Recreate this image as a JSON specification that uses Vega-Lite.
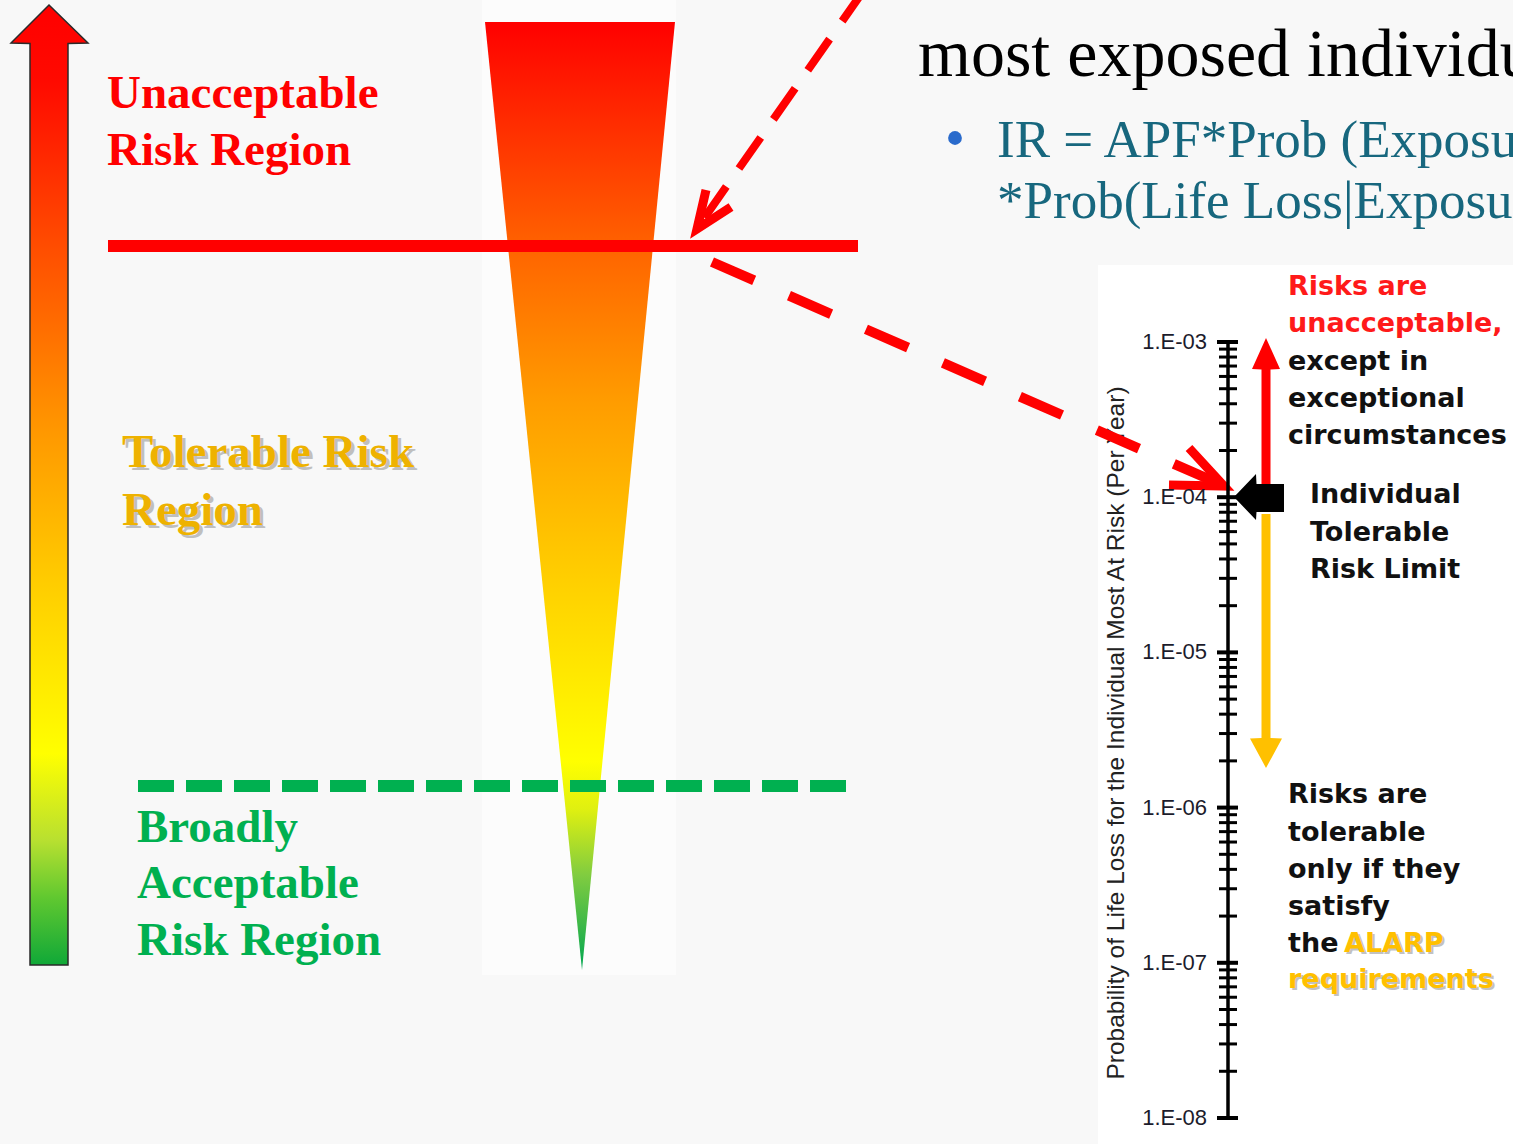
{
  "$schema": "https://vega.github.io/schema/vega-lite/v6.json",
  "width": 1513,
  "height": 1144,
  "padding": 0,
  "autosize": {"type": "none"},
  "background": "#f8f8f8",
  "config": {"view": {"stroke": null}},
  "datasets": {
    "panels": [
      {"x": 482, "x2": 676, "y": 0, "y2": 975, "k": "faint"},
      {"x": 1098, "x2": 1513, "y": 265, "y2": 1144, "k": "white"}
    ],
    "leftArrow": [
      {"y": 5, "xl": 49, "xr": 49},
      {"y": 43, "xl": 11, "xr": 88},
      {"y": 43.5, "xl": 30, "xr": 68},
      {"y": 965, "xl": 30, "xr": 68}
    ],
    "triangle": [
      {"y": 22, "xl": 485, "xr": 675},
      {"y": 970, "xl": 582, "xr": 582}
    ],
    "redUp": [
      {"y": 338, "xl": 1266, "xr": 1266},
      {"y": 369, "xl": 1252, "xr": 1280},
      {"y": 369.5, "xl": 1261.5, "xr": 1270.5},
      {"y": 492, "xl": 1261.5, "xr": 1270.5}
    ],
    "orangeDown": [
      {"y": 514, "xl": 1261.5, "xr": 1270.5},
      {"y": 738, "xl": 1261.5, "xr": 1270.5},
      {"y": 738.5, "xl": 1250, "xr": 1282},
      {"y": 768, "xl": 1266, "xr": 1266}
    ],
    "blackLeft": [
      {"x": 1234, "yt": 497, "yb": 497},
      {"x": 1256, "yt": 474, "yb": 520},
      {"x": 1256.5, "yt": 484, "yb": 512},
      {"x": 1284, "yt": 484, "yb": 512}
    ],
    "dash1": [
      {"i": 0, "x": 864, "y": -10},
      {"i": 1, "x": 698, "y": 227}
    ],
    "dash2": [
      {"i": 0, "x": 712, "y": 262},
      {"i": 1, "x": 1220, "y": 484}
    ],
    "heads": [
      {"id": "a", "i": 0, "x": 706, "y": 190},
      {"id": "a", "i": 1, "x": 697, "y": 229},
      {"id": "a", "i": 2, "x": 731, "y": 207},
      {"id": "b", "i": 0, "x": 1189, "y": 448},
      {"id": "b", "i": 1, "x": 1224, "y": 486},
      {"id": "b", "i": 2, "x": 1169, "y": 485}
    ],
    "majors": [
      {"v": 1e-3, "label": "1.E-03"},
      {"v": 1e-4, "label": "1.E-04"},
      {"v": 1e-5, "label": "1.E-05"},
      {"v": 1e-6, "label": "1.E-06"},
      {"v": 1e-7, "label": "1.E-07"},
      {"v": 1e-8, "label": "1.E-08"}
    ],
    "minors": [
      {"v": 2e-4}, {"v": 3e-4}, {"v": 4e-4}, {"v": 5e-4}, {"v": 6e-4}, {"v": 7e-4}, {"v": 8e-4}, {"v": 9e-4},
      {"v": 2e-5}, {"v": 3e-5}, {"v": 4e-5}, {"v": 5e-5}, {"v": 6e-5}, {"v": 7e-5}, {"v": 8e-5}, {"v": 9e-5},
      {"v": 2e-6}, {"v": 3e-6}, {"v": 4e-6}, {"v": 5e-6}, {"v": 6e-6}, {"v": 7e-6}, {"v": 8e-6}, {"v": 9e-6},
      {"v": 2e-7}, {"v": 3e-7}, {"v": 4e-7}, {"v": 5e-7}, {"v": 6e-7}, {"v": 7e-7}, {"v": 8e-7}, {"v": 9e-7},
      {"v": 2e-8}, {"v": 3e-8}, {"v": 4e-8}, {"v": 5e-8}, {"v": 6e-8}, {"v": 7e-8}, {"v": 8e-8}, {"v": 9e-8}
    ]
  },
  "layer": [
    {
      "layer": [
        {
          "data": {"name": "panels"},
          "mark": {"type": "rect"},
          "encoding": {
            "x": {"field": "x", "type": "quantitative", "scale": {"domain": [0, 1513], "nice": false, "zero": false}, "axis": null},
            "x2": {"field": "x2"},
            "y": {"field": "y", "type": "quantitative", "scale": {"domain": [0, 1144], "reverse": true, "nice": false, "zero": false}, "axis": null},
            "y2": {"field": "y2"},
            "fill": {"field": "k", "type": "nominal", "scale": {"domain": ["faint", "white"], "range": ["#fcfcfc", "#ffffff"]}, "legend": null}
          }
        },
        {
          "data": {"name": "leftArrow"},
          "mark": {
            "type": "area", "orient": "horizontal", "stroke": "#2a2a2a", "strokeWidth": 1.5,
            "fill": {"gradient": "linear", "x1": 0, "y1": 0, "x2": 0, "y2": 1, "stops": [
              {"offset": 0, "color": "#ff0000"},
              {"offset": 0.08, "color": "#ff0a00"},
              {"offset": 0.25, "color": "#ff4c00"},
              {"offset": 0.45, "color": "#ff9a00"},
              {"offset": 0.6, "color": "#ffcc00"},
              {"offset": 0.78, "color": "#ffff00"},
              {"offset": 0.87, "color": "#b8e030"},
              {"offset": 0.93, "color": "#60c830"},
              {"offset": 1, "color": "#10a838"}
            ]}
          },
          "encoding": {
            "y": {"field": "y", "type": "quantitative"},
            "x": {"field": "xl", "type": "quantitative", "stack": null},
            "x2": {"field": "xr"}
          }
        },
        {
          "data": {"name": "triangle"},
          "mark": {
            "type": "area", "orient": "horizontal",
            "fill": {"gradient": "linear", "x1": 0, "y1": 0, "x2": 0, "y2": 1, "stops": [
              {"offset": 0, "color": "#ff0000"},
              {"offset": 0.25, "color": "#ff6800"},
              {"offset": 0.4, "color": "#ff9c00"},
              {"offset": 0.6, "color": "#ffd200"},
              {"offset": 0.78, "color": "#ffff00"},
              {"offset": 0.83, "color": "#e0f010"},
              {"offset": 0.9, "color": "#80cc40"},
              {"offset": 1, "color": "#00a650"}
            ]}
          },
          "encoding": {
            "y": {"field": "y", "type": "quantitative"},
            "x": {"field": "xl", "type": "quantitative", "stack": null},
            "x2": {"field": "xr"}
          }
        },
        {
          "data": {"values": [{"x": 108, "x2": 858, "y": 246}]},
          "mark": {"type": "rule", "color": "#ff0000", "strokeWidth": 12},
          "encoding": {
            "x": {"field": "x", "type": "quantitative"},
            "x2": {"field": "x2"},
            "y": {"field": "y", "type": "quantitative"}
          }
        },
        {
          "data": {"values": [{"x": 138, "x2": 846, "y": 786}]},
          "mark": {"type": "rule", "color": "#00b050", "strokeWidth": 12, "strokeDash": [36, 12]},
          "encoding": {
            "x": {"field": "x", "type": "quantitative"},
            "x2": {"field": "x2"},
            "y": {"field": "y", "type": "quantitative"}
          }
        },
        {
          "data": {"name": "redUp"},
          "mark": {"type": "area", "orient": "horizontal", "fill": "#ff0000"},
          "encoding": {
            "y": {"field": "y", "type": "quantitative"},
            "x": {"field": "xl", "type": "quantitative", "stack": null},
            "x2": {"field": "xr"}
          }
        },
        {
          "data": {"name": "orangeDown"},
          "mark": {"type": "area", "orient": "horizontal", "fill": "#ffc000"},
          "encoding": {
            "y": {"field": "y", "type": "quantitative"},
            "x": {"field": "xl", "type": "quantitative", "stack": null},
            "x2": {"field": "xr"}
          }
        },
        {
          "data": {"name": "blackLeft"},
          "mark": {"type": "area", "orient": "vertical", "fill": "#000000"},
          "encoding": {
            "x": {"field": "x", "type": "quantitative"},
            "y": {"field": "yt", "type": "quantitative", "stack": null},
            "y2": {"field": "yb"}
          }
        },
        {
          "data": {"values": [
            {"t": "Unacceptable", "x": 107, "y": 108},
            {"t": "Risk Region", "x": 107, "y": 165}
          ]},
          "mark": {"type": "text", "font": "Liberation Serif", "fontWeight": "bold", "fontSize": 47, "color": "#ff0000", "align": "left", "baseline": "alphabetic"},
          "encoding": {
            "x": {"field": "x", "type": "quantitative"},
            "y": {"field": "y", "type": "quantitative"},
            "text": {"field": "t"}
          }
        },
        {
          "data": {"values": [
            {"t": "Tolerable Risk", "x": 122, "y": 467},
            {"t": "Region", "x": 122, "y": 525}
          ]},
          "mark": {"type": "text", "font": "Liberation Serif", "fontWeight": "bold", "fontSize": 47, "color": "#9a9a9a", "opacity": 0.6, "dx": 3, "dy": 3, "align": "left", "baseline": "alphabetic"},
          "encoding": {
            "x": {"field": "x", "type": "quantitative"},
            "y": {"field": "y", "type": "quantitative"},
            "text": {"field": "t"}
          }
        },
        {
          "data": {"values": [
            {"t": "Tolerable Risk", "x": 122, "y": 467},
            {"t": "Region", "x": 122, "y": 525}
          ]},
          "mark": {"type": "text", "font": "Liberation Serif", "fontWeight": "bold", "fontSize": 47, "color": "#eeb200", "align": "left", "baseline": "alphabetic"},
          "encoding": {
            "x": {"field": "x", "type": "quantitative"},
            "y": {"field": "y", "type": "quantitative"},
            "text": {"field": "t"}
          }
        },
        {
          "data": {"values": [
            {"t": "Broadly", "x": 137, "y": 842},
            {"t": "Acceptable", "x": 137, "y": 898},
            {"t": "Risk Region", "x": 137, "y": 955}
          ]},
          "mark": {"type": "text", "font": "Liberation Serif", "fontWeight": "bold", "fontSize": 47, "color": "#00b050", "align": "left", "baseline": "alphabetic"},
          "encoding": {
            "x": {"field": "x", "type": "quantitative"},
            "y": {"field": "y", "type": "quantitative"},
            "text": {"field": "t"}
          }
        },
        {
          "data": {"values": [{"t": "most exposed individual", "x": 918, "y": 76}]},
          "mark": {"type": "text", "font": "Liberation Serif", "fontSize": 68, "color": "#000000", "align": "left", "baseline": "alphabetic"},
          "encoding": {
            "x": {"field": "x", "type": "quantitative"},
            "y": {"field": "y", "type": "quantitative"},
            "text": {"field": "t"}
          }
        },
        {
          "data": {"values": [
            {"t": "IR = APF*Prob (Exposure|Event)", "x": 997, "y": 157},
            {"t": "*Prob(Life Loss|Exposure)", "x": 997, "y": 218}
          ]},
          "mark": {"type": "text", "font": "Liberation Serif", "fontSize": 53, "color": "#17677e", "align": "left", "baseline": "alphabetic"},
          "encoding": {
            "x": {"field": "x", "type": "quantitative"},
            "y": {"field": "y", "type": "quantitative"},
            "text": {"field": "t"}
          }
        },
        {
          "data": {"values": [{"x": 955, "y": 138}]},
          "mark": {"type": "point", "filled": true, "shape": "circle", "size": 190, "color": "#2a6bcc", "opacity": 1},
          "encoding": {
            "x": {"field": "x", "type": "quantitative"},
            "y": {"field": "y", "type": "quantitative"}
          }
        },
        {
          "data": {"values": [{"t": "Probability of Life Loss for the Individual Most At Risk (Per Year)", "x": 1117, "y": 733}]},
          "mark": {"type": "text", "font": "Liberation Sans", "fontSize": 24.5, "color": "#222222", "angle": 270, "align": "center", "baseline": "middle"},
          "encoding": {
            "x": {"field": "x", "type": "quantitative"},
            "y": {"field": "y", "type": "quantitative"},
            "text": {"field": "t"}
          }
        },
        {
          "data": {"values": [
            {"t": "Risks are", "x": 1288, "y": 295},
            {"t": "unacceptable,", "x": 1288, "y": 332}
          ]},
          "mark": {"type": "text", "font": "DejaVu Sans", "fontWeight": "bold", "fontSize": 27, "color": "#ff1a1a", "align": "left", "baseline": "alphabetic"},
          "encoding": {
            "x": {"field": "x", "type": "quantitative"},
            "y": {"field": "y", "type": "quantitative"},
            "text": {"field": "t"}
          }
        },
        {
          "data": {"values": [
            {"t": "except in", "x": 1288, "y": 370},
            {"t": "exceptional", "x": 1288, "y": 407},
            {"t": "circumstances", "x": 1288, "y": 444},
            {"t": "Individual", "x": 1310, "y": 503},
            {"t": "Tolerable", "x": 1310, "y": 541},
            {"t": "Risk Limit", "x": 1310, "y": 578},
            {"t": "Risks are", "x": 1288, "y": 803},
            {"t": "tolerable", "x": 1288, "y": 841},
            {"t": "only if they", "x": 1288, "y": 878},
            {"t": "satisfy", "x": 1288, "y": 915},
            {"t": "the", "x": 1288, "y": 952}
          ]},
          "mark": {"type": "text", "font": "DejaVu Sans", "fontWeight": "bold", "fontSize": 27, "color": "#111111", "align": "left", "baseline": "alphabetic"},
          "encoding": {
            "x": {"field": "x", "type": "quantitative"},
            "y": {"field": "y", "type": "quantitative"},
            "text": {"field": "t"}
          }
        },
        {
          "data": {"values": [
            {"t": "ALARP", "x": 1344, "y": 952},
            {"t": "requirements", "x": 1288, "y": 988}
          ]},
          "mark": {"type": "text", "font": "DejaVu Sans", "fontWeight": "bold", "fontSize": 27, "color": "#9a9a9a", "opacity": 0.6, "dx": 2, "dy": 2, "align": "left", "baseline": "alphabetic"},
          "encoding": {
            "x": {"field": "x", "type": "quantitative"},
            "y": {"field": "y", "type": "quantitative"},
            "text": {"field": "t"}
          }
        },
        {
          "data": {"values": [
            {"t": "ALARP", "x": 1344, "y": 952},
            {"t": "requirements", "x": 1288, "y": 988}
          ]},
          "mark": {"type": "text", "font": "DejaVu Sans", "fontWeight": "bold", "fontSize": 27, "color": "#ffc000", "align": "left", "baseline": "alphabetic"},
          "encoding": {
            "x": {"field": "x", "type": "quantitative"},
            "y": {"field": "y", "type": "quantitative"},
            "text": {"field": "t"}
          }
        },
        {
          "data": {"name": "dash1"},
          "mark": {"type": "line", "color": "#ff0000", "strokeWidth": 8, "strokeDash": [38, 22], "strokeCap": "butt"},
          "encoding": {
            "x": {"field": "x", "type": "quantitative"},
            "y": {"field": "y", "type": "quantitative"},
            "order": {"field": "i", "type": "quantitative"}
          }
        },
        {
          "data": {"name": "dash2"},
          "mark": {"type": "line", "color": "#ff0000", "strokeWidth": 10, "strokeDash": [46, 38], "strokeCap": "butt"},
          "encoding": {
            "x": {"field": "x", "type": "quantitative"},
            "y": {"field": "y", "type": "quantitative"},
            "order": {"field": "i", "type": "quantitative"}
          }
        },
        {
          "data": {"name": "heads"},
          "mark": {"type": "line", "color": "#ff0000", "strokeWidth": 9, "strokeCap": "butt", "strokeJoin": "miter"},
          "encoding": {
            "x": {"field": "x", "type": "quantitative"},
            "y": {"field": "y", "type": "quantitative"},
            "detail": {"field": "id"},
            "order": {"field": "i", "type": "quantitative"}
          }
        }
      ]
    },
    {
      "layer": [
        {
          "data": {"values": [{"x": 1228, "v": 1e-3, "v2": 1e-8}]},
          "mark": {"type": "rule", "color": "#000000", "strokeWidth": 3.5},
          "encoding": {
            "x": {"field": "x", "type": "quantitative"},
            "y": {"field": "v", "type": "quantitative", "scale": {"type": "log", "domain": [1e-8, 1e-3], "range": [1118, 342], "nice": false}, "axis": null},
            "y2": {"field": "v2"}
          }
        },
        {
          "data": {"name": "majors"},
          "transform": [{"calculate": "1217", "as": "xa"}, {"calculate": "1238", "as": "xb"}],
          "mark": {"type": "rule", "color": "#000000", "strokeWidth": 4},
          "encoding": {
            "x": {"field": "xa", "type": "quantitative"},
            "x2": {"field": "xb"},
            "y": {"field": "v", "type": "quantitative"}
          }
        },
        {
          "data": {"name": "minors"},
          "transform": [{"calculate": "1219", "as": "xa"}, {"calculate": "1237", "as": "xb"}],
          "mark": {"type": "rule", "color": "#000000", "strokeWidth": 3},
          "encoding": {
            "x": {"field": "xa", "type": "quantitative"},
            "x2": {"field": "xb"},
            "y": {"field": "v", "type": "quantitative"}
          }
        },
        {
          "data": {"name": "majors"},
          "transform": [{"calculate": "1207", "as": "xl"}],
          "mark": {"type": "text", "font": "Liberation Sans", "fontSize": 22, "color": "#1c1c2c", "align": "right", "baseline": "middle"},
          "encoding": {
            "x": {"field": "xl", "type": "quantitative"},
            "y": {"field": "v", "type": "quantitative"},
            "text": {"field": "label"}
          }
        }
      ]
    }
  ],
  "resolve": {"scale": {"y": "independent"}}
}
